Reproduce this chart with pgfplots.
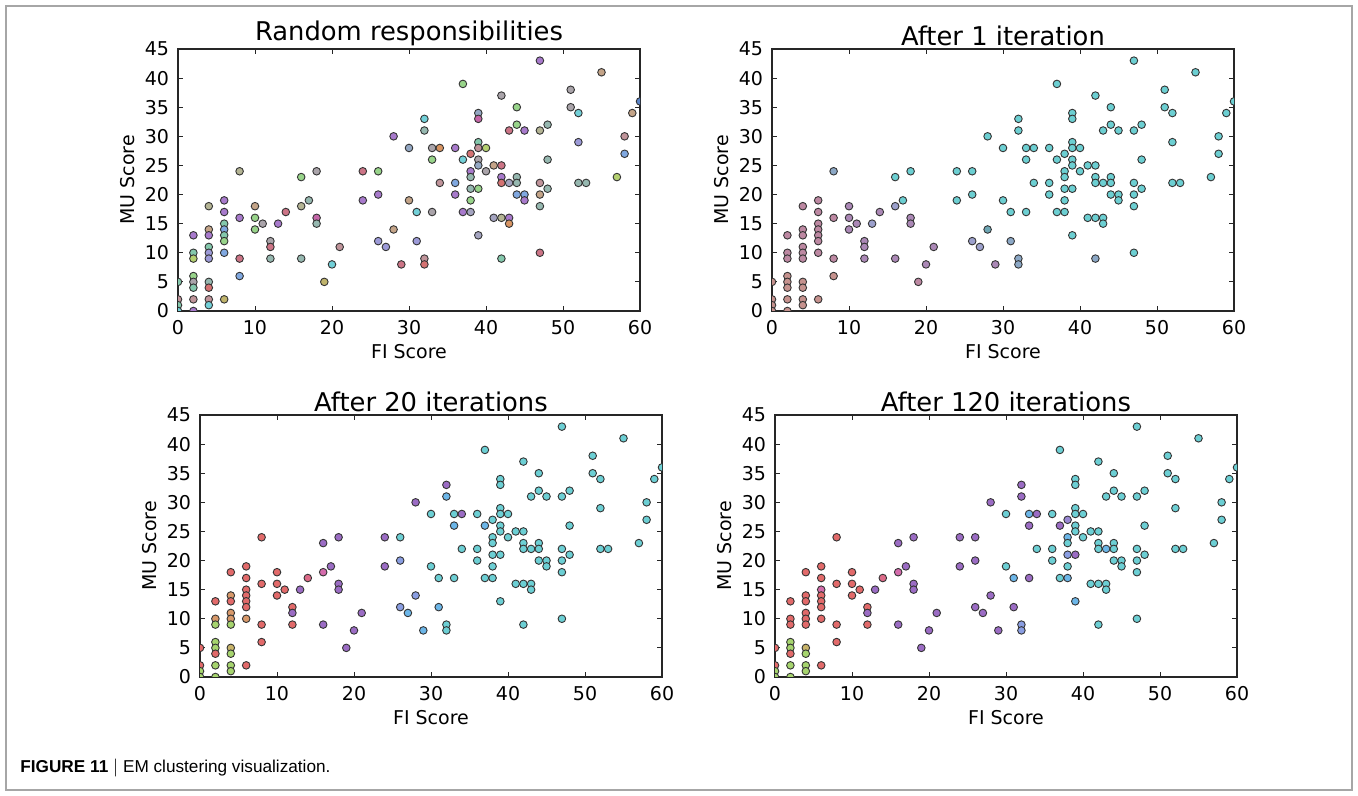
\documentclass[border=0pt]{standalone}
\usepackage{pgfplots}
\usepackage{pgfplotstable}
\pgfplotsset{compat=1.18}
\usepackage{fontspec}
\setmainfont{DejaVu Sans}
\newfontfamily\capfont{Liberation Sans}

% top-left (random) palette
\definecolor{tlR}{HTML}{D47272}\definecolor{tlM}{HTML}{C0949A}\definecolor{tlP}{HTML}{A87ACC}
\definecolor{tlL}{HTML}{9C9AD8}\definecolor{tlB}{HTML}{80A8E0}\definecolor{tlC}{HTML}{72D0D8}
\definecolor{tlT}{HTML}{84C8AC}\definecolor{tlG}{HTML}{98D48A}\definecolor{tlY}{HTML}{B4D070}
\definecolor{tlO}{HTML}{C0B46C}\definecolor{tlN}{HTML}{C4A488}\definecolor{tlK}{HTML}{AAA4AA}
\definecolor{tlS}{HTML}{96B8B0}\definecolor{tlH}{HTML}{B4B494}\definecolor{tlQ}{HTML}{C466A8}
\definecolor{tlA}{HTML}{D89462}\definecolor{tlD}{HTML}{5A84C8}\definecolor{tlE}{HTML}{CC7486}
\definecolor{tlU}{HTML}{94A8C4}\definecolor{tlV}{HTML}{A4A4C0}
% top-right palette
\definecolor{trpb}{HTML}{C6928E}\definecolor{trpm}{HTML}{BD88A2}\definecolor{trmv}{HTML}{AB88B6}
\definecolor{trlg}{HTML}{9CA0CC}\definecolor{trbg}{HTML}{8CA8C6}\definecolor{trcy}{HTML}{6CCFD2}
\definecolor{trdt}{HTML}{6EA6B4}
% bottom palette
\definecolor{br}{HTML}{E26A6A}\definecolor{bg}{HTML}{A6D46E}\definecolor{bo}{HTML}{D8996A}
\definecolor{by}{HTML}{C8B46A}\definecolor{bp}{HTML}{9B6CC4}\definecolor{bk}{HTML}{D46CAC}
\definecolor{bkr}{HTML}{DC6A88}\definecolor{bl}{HTML}{8A9EE2}\definecolor{bb}{HTML}{6CB6E8}
\definecolor{bc}{HTML}{6CCFD4}\definecolor{blp}{HTML}{9A88D4}

\pgfplotstableread{
x y tl tr bl br
0 5 T pb r r
0 2 M pb r r
0 1 T pb g g
0 0 C pb g g
2 13 P pm r r
2 10 T pm o r
2 9 Y pm g r
2 6 G pb g g
2 5 K pb g g
2 4 T pb r r
2 2 M pb g g
2 0 P pb g g
4 18 H pm r r
4 14 N pm o r
4 13 P pm r r
4 11 T pm o r
4 10 L pm o r
4 9 L pm g r
4 5 S pb y y
4 4 R pb g g
4 2 M pb g g
4 1 C pb g g
6 19 P pm r r
6 17 P pm r r
6 15 T pm r k
6 14 B pm r r
6 13 T pm r r
6 12 G pm r r
6 10 B pm o r
6 2 O pb r r
8 24 H bg r r
8 16 P pm r r
8 9 E pm r r
8 6 B pb r r
10 18 N mv r r
10 16 G mv r r
10 14 G mv r r
11 15 K mv r r
12 12 K mv r r
12 11 E mv p p
12 9 S mv r r
13 15 P lg p p
14 17 E mv kr kr
16 23 G cy p p
16 18 H lg k k
16 9 S mv p p
17 19 S cy p p
18 24 K cy p p
18 16 Q mv p p
18 15 S mv p p
19 5 O pm p p
20 8 C mv p p
21 11 M mv p p
24 24 E cy p p
24 19 P cy p p
26 24 G cy c p
26 20 P cy l p
26 12 L lg l p
27 11 L lg b p
28 30 P cy p p
28 14 N dt l p
29 8 E mv b p
30 28 U cy c c
30 19 N cy c c
31 17 C cy c b
31 12 L bg b p
32 33 C cy p p
32 31 S cy b p
32 9 M bg c l
32 8 R bg c l
33 28 K cy c b
33 26 G cy b p
33 17 K cy c p
34 28 A cy p p
34 22 M cy c c
36 28 P cy c c
36 22 B cy c c
36 20 P cy c c
37 39 G cy c c
37 26 C cy b p
37 17 P cy c c
38 27 R cy c lp
38 24 P cy c b
38 23 S cy c c
38 21 S cy c l
38 19 G cy c c
38 17 V cy c b
39 34 U cy c c
39 33 Q cy c c
39 29 T cy c c
39 28 M cy c c
39 26 K cy c c
39 25 U cy c c
39 21 G cy c p
39 13 V cy c b
40 28 Y cy c c
40 24 K cy c c
41 25 N cy c c
41 16 V cy c c
42 37 K cy c c
42 25 E cy c c
42 23 P cy c c
42 22 R cy c c
42 16 H cy c c
42 9 T bg c c
43 31 E cy c c
43 22 V cy c b
43 16 P cy c c
43 15 A cy c c
44 35 G cy c c
44 32 G cy c c
44 23 S cy c c
44 22 S cy c c
44 20 B cy c c
45 31 P cy c c
45 20 B cy c c
45 19 P cy c c
47 43 P cy c c
47 31 H cy c c
47 22 M cy c c
47 20 N cy c c
47 18 S cy c c
47 10 E cy c c
48 32 S cy c c
48 26 S cy c c
48 21 S cy c c
51 38 K cy c c
51 35 K cy c c
52 34 C cy c c
52 29 L cy c c
52 22 S cy c c
53 22 S cy c c
55 41 N cy c c
57 23 Y cy c c
58 30 M cy c c
58 27 B cy c c
59 34 N cy c c
60 36 D cy c c
}\data

\tikzset{cl/.style={mark=*,draw=black!80,fill=#1}}

\pgfplotsset{
  emstyle/.style={
    width=231pt, height=131pt, scale only axis,
    xmin=0, xmax=60, ymin=0, ymax=45,
    xtick={0,10,...,60}, ytick={0,5,...,45},
    tick align=inside, major tick length=2.5pt,
    axis line style={black!85, line width=0.6pt},
    every tick/.style={black!85, line width=0.5pt},
    clip marker paths=true,
    /pgf/number format/assume math mode=true,
    ticklabel style={font=\fontsize{9.5}{10}\selectfont},
    label style={font=\fontsize{9.5}{10}\selectfont},
    every axis title shift=-1pt,
    title style={font=\fontsize{12.9}{13}\selectfont, at={(0.5,1)}, anchor=south, inner sep=2.5pt},
    xlabel={FI Score}, ylabel={MU Score},
    xlabel style={at={(axis description cs:0.5,-0.155)}, anchor=center},
    ylabel style={at={(axis description cs:-0.11,0.5)}, anchor=center},
    xticklabel style={yshift=-1pt},
    yticklabel style={xshift=-1pt},
  },
  emplot/.style={scatter, only marks, mark size=1.9pt, line width=0.45pt, scatter src=explicit symbolic},
}

\begin{document}
\begin{tikzpicture}
\path[use as bounding box] (0pt,0pt) rectangle (679pt,398pt);
\draw[black!35, line width=0.6pt] (3pt,3pt) rectangle (676pt,395pt);
\node[anchor=west, inner sep=0pt, font=\capfont\fontsize{8.6}{9}\selectfont] at (10pt,14pt) {\textbf{FIGURE 11} $|$ EM clustering visualization.};

\begin{axis}[emstyle, at={(89pt,242.5pt)}, anchor=south west, title={Random responsibilities}]
\addplot[emplot, scatter/classes={
 R={cl=tlR},M={cl=tlM},P={cl=tlP},L={cl=tlL},B={cl=tlB},C={cl=tlC},T={cl=tlT},G={cl=tlG},
 Y={cl=tlY},O={cl=tlO},N={cl=tlN},K={cl=tlK},S={cl=tlS},H={cl=tlH},Q={cl=tlQ},A={cl=tlA},
 D={cl=tlD},E={cl=tlE},U={cl=tlU},V={cl=tlV}}]
 table[x=x,y=y,meta=tl]{\data};
\end{axis}

\begin{axis}[emstyle, at={(386pt,242.5pt)}, anchor=south west, title={After 1 iteration}]
\addplot[emplot, scatter/classes={
 pb={cl=trpb},pm={cl=trpm},mv={cl=trmv},lg={cl=trlg},bg={cl=trbg},cy={cl=trcy},dt={cl=trdt}}]
 table[x=x,y=y,meta=tr]{\data};
\end{axis}

\begin{axis}[emstyle, at={(100pt,59.5pt)}, anchor=south west, title={After 20 iterations}]
\addplot[emplot, scatter/classes={
 r={cl=br},g={cl=bg},o={cl=bo},y={cl=by},p={cl=bp},k={cl=bk},kr={cl=bkr},l={cl=bl},b={cl=bb},c={cl=bc},lp={cl=blp}}]
 table[x=x,y=y,meta=bl]{\data};
\end{axis}

\begin{axis}[emstyle, at={(387.5pt,59.5pt)}, anchor=south west, title={After 120 iterations}]
\addplot[emplot, scatter/classes={
 r={cl=br},g={cl=bg},o={cl=bo},y={cl=by},p={cl=bp},k={cl=bk},kr={cl=bkr},l={cl=bl},b={cl=bb},c={cl=bc},lp={cl=blp}}]
 table[x=x,y=y,meta=br]{\data};
\end{axis}
\end{tikzpicture}
\end{document}
